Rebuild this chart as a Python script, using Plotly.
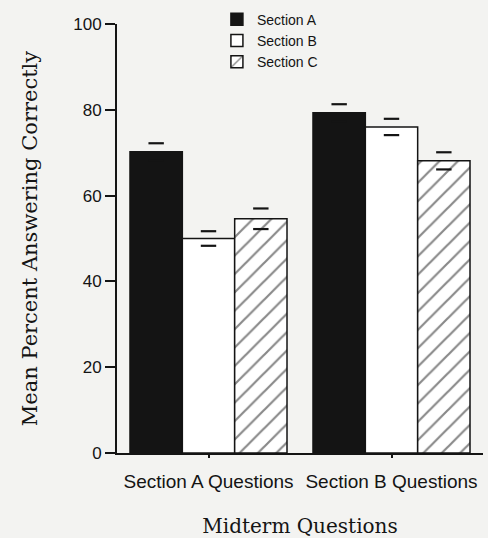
import plotly.graph_objects as go

categories = ["Section A Questions", "Section B Questions"]
sections = ["Section A", "Section B", "Section C"]
values = {
    "Section A": [70.2, 79.3],
    "Section B": [50.0, 76.0],
    "Section C": [54.6, 68.1],
}
errors = {
    "Section A": [2.0, 2.0],
    "Section B": [1.7, 1.9],
    "Section C": [2.4, 2.0],
}
y_ticks = [0, 20, 40, 60, 80, 100]

BG = "#f3f3f1"
INK = "#141414"
BARGAP = 0.142

styles = {
    "Section A": dict(color=INK, line=dict(color=INK, width=1.5)),
    "Section B": dict(color="white", line=dict(color=INK, width=1.5)),
    "Section C": dict(color="white", line=dict(color=INK, width=1.5),
                      pattern=dict(shape="/", fgcolor=INK, bgcolor="white",
                                   size=13, solidity=0.17)),
}

fig = go.Figure()
xs = list(range(len(categories)))
for s in sections:
    fig.add_trace(go.Bar(x=xs, y=values[s], name=s, marker=styles[s]))

bar_w = (1 - BARGAP) / len(sections)
for i, s in enumerate(sections):
    off = (i - (len(sections) - 1) / 2) * bar_w
    ex = [x + off for x in xs] * 2
    ey = [v + e for v, e in zip(values[s], errors[s])] + \
         [v - e for v, e in zip(values[s], errors[s])]
    fig.add_trace(go.Scatter(
        x=ex, y=ey, mode="markers", showlegend=False, hoverinfo="skip",
        marker=dict(symbol="line-ew", size=11,
                    line=dict(color=INK, width=2.2)),
    ))

fig.update_layout(
    width=488, height=538,
    margin=dict(l=117, r=5, t=23, b=85),
    paper_bgcolor=BG, plot_bgcolor=BG,
    barmode="group", bargap=BARGAP, bargroupgap=0,
    legend=dict(x=0.273, y=1.045, xanchor="left", yanchor="top",
                bgcolor="rgba(0,0,0,0)",
                font=dict(family="Liberation Sans", size=14, color=INK),
                tracegroupgap=0),
    font=dict(color=INK),
)
fig.update_xaxes(
    range=[-0.5, 1.5], tickvals=xs, ticktext=categories, automargin=False,
    showline=True, linecolor=INK, linewidth=2, showgrid=False, zeroline=False,
    ticks="outside", ticklen=3, tickcolor=INK, tickwidth=1.5,
    ticklabelstandoff=7,
    tickfont=dict(family="Liberation Sans", size=19, color=INK),
    title=dict(text="Midterm Questions", standoff=30,
               font=dict(family="DejaVu Serif", size=20, color=INK)),
)
fig.update_yaxes(
    range=[0, 100], tickvals=y_ticks, automargin=False,
    showline=True, linecolor=INK, linewidth=2, showgrid=False, zeroline=False,
    ticks="outside", ticklen=10, tickcolor=INK, tickwidth=2,
    tickfont=dict(family="Liberation Sans", size=17, color=INK),
    title=dict(text="Mean Percent Answering Correctly", standoff=30,
               font=dict(family="DejaVu Serif", size=21, color=INK)),
)

fig.write_html("out.html", config={"displayModeBar": False},
               post_script="document.body.style.margin='0';")
